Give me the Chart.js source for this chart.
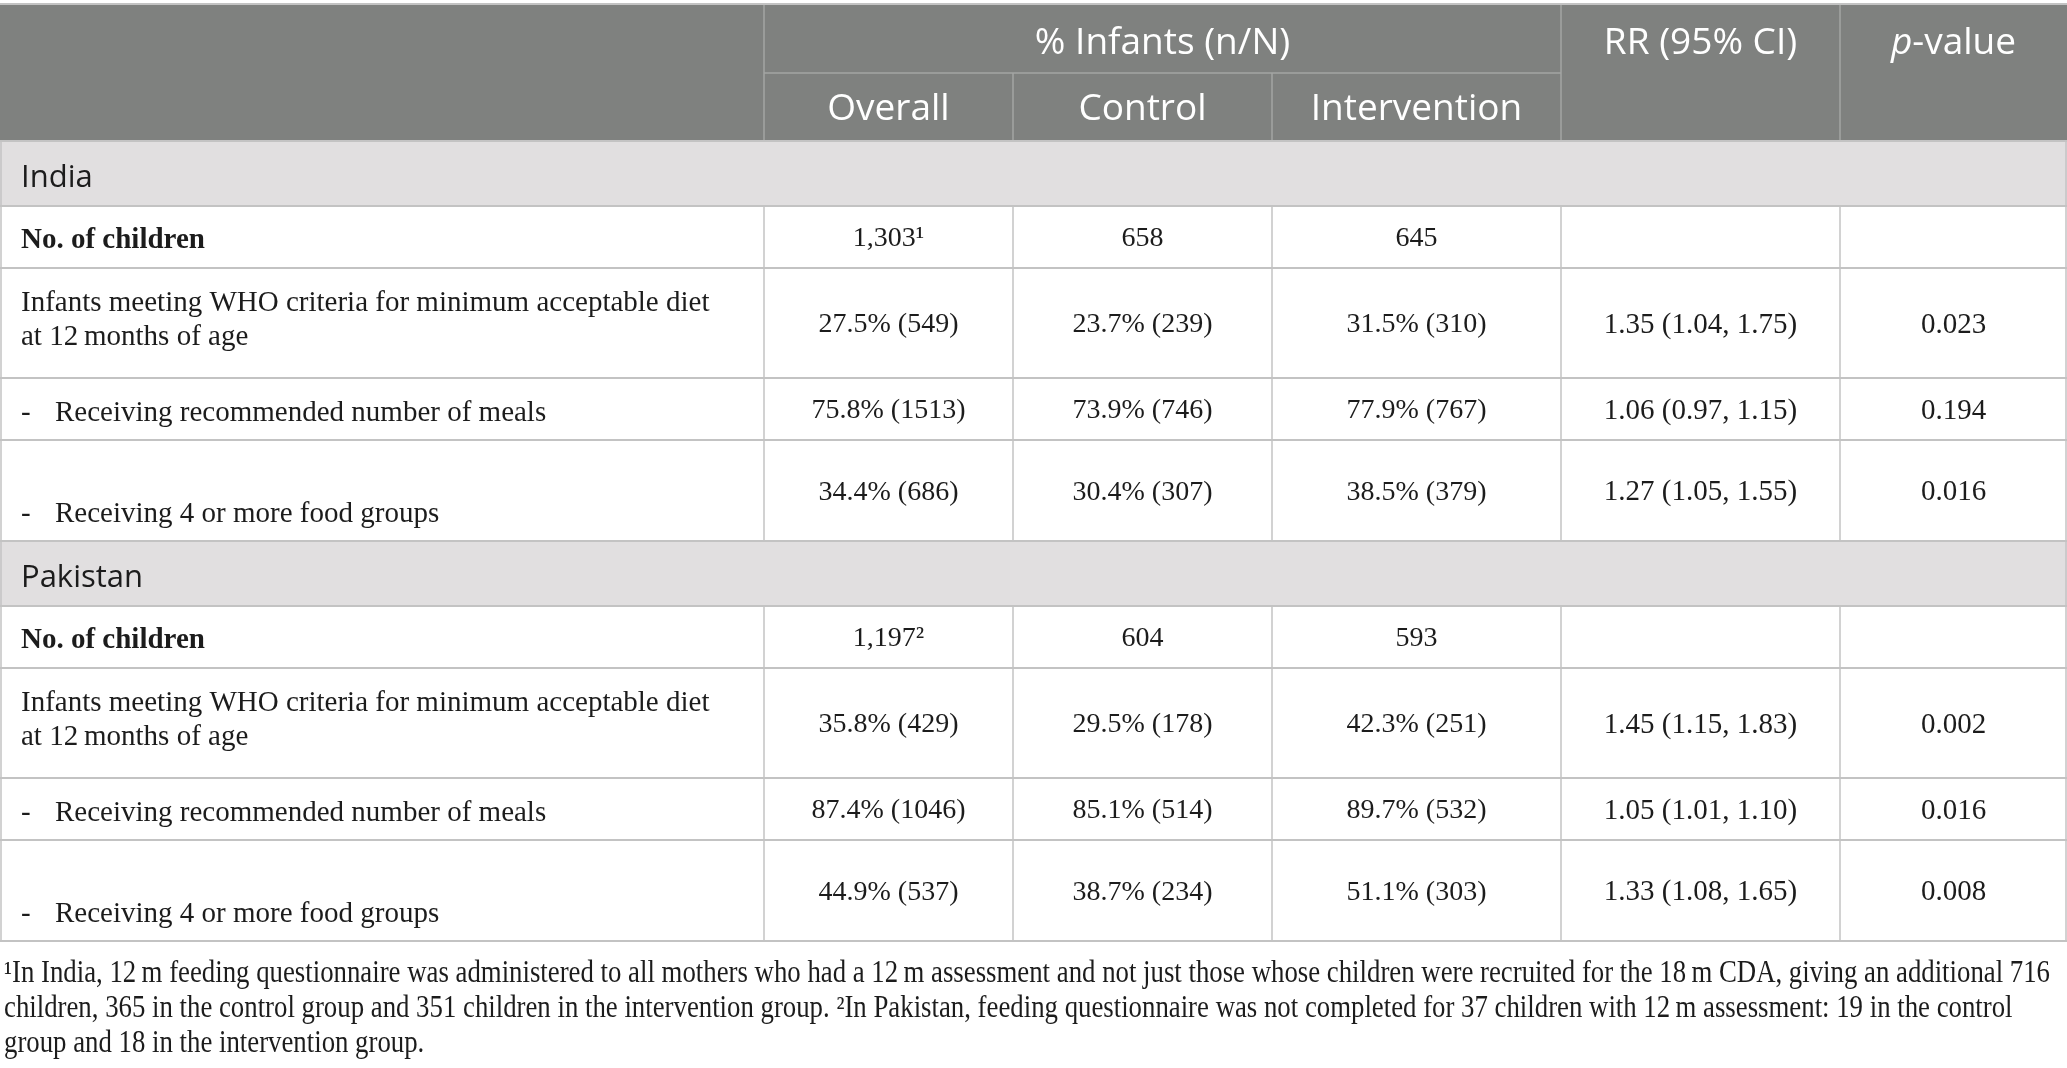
<!DOCTYPE html>
<html>
<head>
<meta charset="utf-8">
<script src="https://cdn.jsdelivr.net/npm/chart.js@4.4.1/dist/chart.umd.min.js"></script>
<style>
  html, body { margin: 0; padding: 0; background: #fff; }
  #wrap { width: 2067px; height: 1068px; position: relative; }
</style>
</head>
<body>
<div id="wrap"><canvas id="tableChart"></canvas></div>
<script>
// ---- table content ----
var topHeader = '% Infants (n/N)';
var subHeaders = ['Overall', 'Control', 'Intervention'];
var rrHeader = 'RR (95% CI)';
var pHeader = [{ t: 'p', italic: true }, { t: '-value' }];

var groups = ['India', 'Pakistan'];
var rowLabels = [
    'No. of children',
    'Infants meeting WHO criteria for minimum acceptable diet\nat 12\u2009months of age',
    '-\tReceiving recommended number of meals',
    '-\tReceiving 4 or more food groups'
];

var indiaOverall = ['1,303\u00b9', '27.5% (549)', '75.8% (1513)', '34.4% (686)'];
var indiaControl = ['658', '23.7% (239)', '73.9% (746)', '30.4% (307)'];
var indiaIntervention = ['645', '31.5% (310)', '77.9% (767)', '38.5% (379)'];
var indiaRR = ['', '1.35 (1.04, 1.75)', '1.06 (0.97, 1.15)', '1.27 (1.05, 1.55)'];
var indiaP = ['', '0.023', '0.194', '0.016'];

var pakistanOverall = ['1,197\u00b2', '35.8% (429)', '87.4% (1046)', '44.9% (537)'];
var pakistanControl = ['604', '29.5% (178)', '85.1% (514)', '38.7% (234)'];
var pakistanIntervention = ['593', '42.3% (251)', '89.7% (532)', '51.1% (303)'];
var pakistanRR = ['', '1.45 (1.15, 1.83)', '1.05 (1.01, 1.10)', '1.33 (1.08, 1.65)'];
var pakistanP = ['', '0.002', '0.016', '0.008'];

var footnoteLines = [
    '\u00b9In India, 12\u2009m feeding questionnaire was administered to all mothers who had a 12\u2009m assessment and not just those whose children were recruited for the 18\u2009m CDA, giving an additional 716',
    'children, 365 in the control group and 351 children in the intervention group. \u00b2In Pakistan, feeding questionnaire was not completed for 37 children with 12\u2009m assessment: 19 in the control',
    'group and 18 in the intervention group.'
];

// ---- layout (units = page pixels) ----
var pageW = 2067, pageH = 1068;
var colWidths = [764, 249, 259, 289, 279, 227];
var tableTop = 4;
var headerHeights = [69, 68];
var bodyHeights = [65, 62, 110, 62, 101];
var labelShift = [1, -5, 2, 22];
var lineGap = 34;
var footTop = 982, footGap = 35, footWidth = 2046;

var headerBg = '#7f817f';
var sectionBg = '#e1dfe0';
var gridColor = '#c3c3c3';
var headerGrid = '#a4a5a4';
var textColor = '#1c1c1c';

var sansFont = '"Open Sans", "Noto Sans", sans-serif';
var serifFont = '"Liberation Serif", "DejaVu Serif", serif';

var countryData = {
    India: [indiaOverall, indiaControl, indiaIntervention, indiaRR, indiaP],
    Pakistan: [pakistanOverall, pakistanControl, pakistanIntervention, pakistanRR, pakistanP]
};

function edges(start, sizes) {
    var out = [start];
    sizes.forEach(function(s) { out.push(out[out.length - 1] + s); });
    return out;
}

function capHeight(ctx) {
    return ctx.measureText('H').actualBoundingBoxAscent;
}

// draws text (or italic/regular segments) with its cap centred on yMid
function putText(ctx, content, x, yMid, align, size, family, weight) {
    var segs = typeof content === 'string' ? [{ t: content }] : content;
    var fontFor = function(s) {
        return (s.italic ? 'italic ' : '') + (weight || '400') + ' ' + size + 'px ' + family;
    };
    ctx.font = fontFor({});
    var base = yMid + capHeight(ctx) / 2;
    var total = 0;
    segs.forEach(function(s) { ctx.font = fontFor(s); total += ctx.measureText(s.t).width; });
    var cx = align === 'center' ? x - total / 2 : x;
    ctx.textAlign = 'left';
    ctx.textBaseline = 'alphabetic';
    segs.forEach(function(s) {
        ctx.font = fontFor(s);
        ctx.fillText(s.t, cx, base);
        cx += ctx.measureText(s.t).width;
    });
}

var tablePlugin = {
    id: 'tableCells',
    afterDraw: function(chart) {
        var ctx = chart.ctx;
        var xs = chart.scales.x, ys = chart.scales.y;
        var px = function(v) { return xs.getPixelForValue(v); };
        var py = function(v) { return ys.getPixelForValue(v); };
        var cols = edges(0, colWidths);
        var hEdges = edges(tableTop, headerHeights);
        var last = cols[cols.length - 1];

        ctx.save();

        // header block
        ctx.fillStyle = headerBg;
        ctx.fillRect(px(0), py(hEdges[0]), px(last) - px(0), py(hEdges[2]) - py(hEdges[0]));

        ctx.strokeStyle = headerGrid;
        ctx.lineWidth = 1.5;
        ctx.beginPath();
        ctx.moveTo(px(cols[1]), py(hEdges[1]));
        ctx.lineTo(px(cols[4]), py(hEdges[1]));
        [1, 4, 5].forEach(function(i) {
            ctx.moveTo(px(cols[i]), py(hEdges[0]));
            ctx.lineTo(px(cols[i]), py(hEdges[2]));
        });
        [2, 3].forEach(function(i) {
            ctx.moveTo(px(cols[i]), py(hEdges[1]));
            ctx.lineTo(px(cols[i]), py(hEdges[2]));
        });
        ctx.stroke();

        ctx.fillStyle = '#ffffff';
        var topMid = py((hEdges[0] + hEdges[1]) / 2) + 2;
        var subMid = py((hEdges[1] + hEdges[2]) / 2);
        putText(ctx, topHeader, px((cols[1] + cols[4]) / 2), topMid, 'center', 37, sansFont);
        subHeaders.forEach(function(h, i) {
            putText(ctx, h, px((cols[i + 1] + cols[i + 2]) / 2), subMid, 'center', 37, sansFont);
        });
        putText(ctx, rrHeader, px((cols[4] + cols[5]) / 2), topMid, 'center', 37, sansFont);
        putText(ctx, pHeader, px((cols[5] + cols[6]) / 2), topMid, 'center', 37, sansFont);

        // body
        var y0 = hEdges[2];
        groups.forEach(function(g) {
            var rEdges = edges(y0, bodyHeights);
            // section band
            ctx.fillStyle = sectionBg;
            ctx.fillRect(px(0), py(rEdges[0]), px(last) - px(0), py(rEdges[1]) - py(rEdges[0]));
            ctx.fillStyle = textColor;
            putText(ctx, g, px(21), py((rEdges[0] + rEdges[1]) / 2) + 2, 'left', 31, sansFont);

            var vals = countryData[g];
            rowLabels.forEach(function(label, r) {
                var top = rEdges[r + 1], bot = rEdges[r + 2];
                var mid = (top + bot) / 2;
                var lines = label.split('\n');
                lines.forEach(function(line, li) {
                    var ly = py(mid + labelShift[r] + (li - (lines.length - 1) / 2) * lineGap);
                    ctx.fillStyle = textColor;
                    if (line.indexOf('-\t') === 0) {
                        putText(ctx, '-', px(21), ly, 'left', 29, serifFont);
                        putText(ctx, line.slice(2), px(55), ly, 'left', 29, serifFont);
                    } else {
                        putText(ctx, line, px(21), ly, 'left', 29, serifFont, r === 0 ? '700' : '400');
                    }
                });
                vals.forEach(function(series, c) {
                    var v = series[r];
                    if (!v) return;
                    ctx.fillStyle = textColor;
                    var size = c >= 3 ? 29 : 28;
                    putText(ctx, v, px((cols[c + 1] + cols[c + 2]) / 2), py(mid), 'center', size, serifFont);
                });
            });

            // grid
            ctx.strokeStyle = gridColor;
            ctx.lineWidth = 2;
            ctx.beginPath();
            rEdges.forEach(function(e) {
                ctx.moveTo(px(0), py(e));
                ctx.lineTo(px(last), py(e));
            });
            ctx.stroke();
            ctx.lineWidth = 1.5;
            ctx.beginPath();
            [0, cols.length - 1].forEach(function(i) {
                var xx = Math.min(Math.max(px(cols[i]), px(0) + 1), px(last) - 1);
                ctx.moveTo(xx, py(rEdges[0]));
                ctx.lineTo(xx, py(rEdges[rEdges.length - 1]));
            });
            for (var i = 1; i < cols.length - 1; i++) {
                ctx.moveTo(px(cols[i]), py(rEdges[1]));
                ctx.lineTo(px(cols[i]), py(rEdges[rEdges.length - 1]));
            }
            ctx.stroke();
            y0 = rEdges[rEdges.length - 1];
        });

        // outer top border of the header
        ctx.strokeStyle = gridColor;
        ctx.lineWidth = 2;
        ctx.beginPath();
        ctx.moveTo(px(0), py(tableTop));
        ctx.lineTo(px(last), py(tableTop));
        ctx.stroke();

        // footnote, squeezed to the printed line length
        ctx.fillStyle = textColor;
        ctx.font = '400 31px ' + serifFont;
        var squeeze = footWidth / ctx.measureText(footnoteLines[0]).width;
        footnoteLines.forEach(function(line, i) {
            ctx.save();
            ctx.translate(px(4), py(footTop + i * footGap));
            ctx.scale(squeeze, 1);
            ctx.textAlign = 'left';
            ctx.textBaseline = 'alphabetic';
            ctx.fillText(line, 0, 0);
            ctx.restore();
        });

        ctx.restore();
    }
};

var canvas = document.getElementById('tableChart');
var tableChart = new Chart(canvas, {
    type: 'scatter',
    data: { datasets: [] },
    options: {
        responsive: true,
        maintainAspectRatio: false,
        animation: false,
        layout: { padding: 0 },
        plugins: { legend: { display: false }, tooltip: { enabled: false } },
        scales: {
            x: { type: 'linear', display: false, min: 0, max: pageW },
            y: { type: 'linear', display: false, min: 0, max: pageH, reverse: true }
        }
    },
    plugins: [tablePlugin]
});
</script>
</body>
</html>
